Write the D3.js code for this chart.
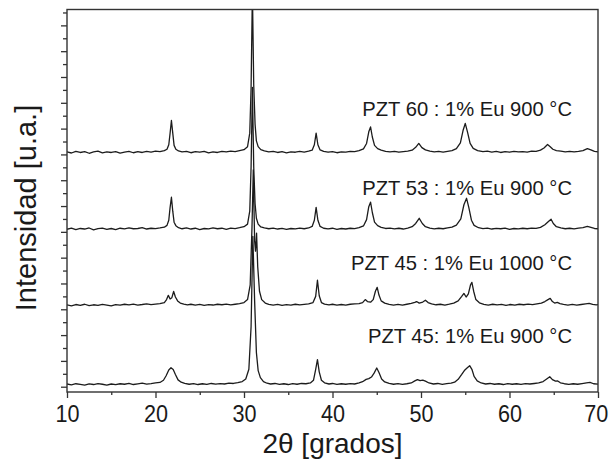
<!DOCTYPE html>
<html>
<head>
<meta charset="utf-8">
<script src="https://cdn.jsdelivr.net/npm/d3@7"></script>
<style>
  html, body { margin: 0; padding: 0; background: #fff; }
  svg { display: block; }
  text { font-family: "Liberation Sans", Arial, Helvetica, sans-serif; fill: #1a1a1a; }
</style>
</head>
<body>
<svg id="chart" width="609" height="466"></svg>
<script>
// X-ray diffraction patterns, 2θ in degrees, intensity in counts above each pattern's own baseline
const labels = [
  "PZT 60 : 1% Eu 900 °C",
  "PZT 53 : 1% Eu 900 °C",
  "PZT 45 : 1% Eu 1000 °C",
  "PZT 45: 1% Eu 900 °C"
];

// vertical stacking offset of each pattern (counts)
const offsets = [1815, 1220, 630, 15];

const pzt60 = [
  [10,5],[10.5,-4],[11,8],[11.5,0],[12,6],[12.5,-6],[13,4],[13.5,10],[14,-3],[14.5,5],[15,0],[15.5,7],[16,-5],[16.5,3],[17,9],[17.5,-2],[18,6],[18.5,0],[19,8],[19.5,3],[20,10],[20.5,6],[21,14],[21.3,25],[21.5,60],[21.65,150],[21.8,248],[21.95,150],[22.1,55],[22.3,25],[22.6,12],[23,5],[23.5,8],[24,-2],[24.5,6],[25,2],[25.5,9],[26,-3],[26.5,5],[27,0],[27.5,8],[28,4],[28.5,10],[29,6],[29.5,14],[30,22],[30.4,45],[30.65,150],[30.8,500],[30.95,1250],[31.1,520],[31.25,220],[31.4,90],[31.6,45],[31.9,22],[32.3,12],[32.8,5],[33.3,8],[33.8,0],[34.3,6],[34.8,-3],[35.3,5],[35.8,2],[36.3,8],[36.8,3],[37.3,10],[37.7,18],[37.95,60],[38.15,150],[38.35,60],[38.6,20],[39,8],[39.5,2],[40,7],[40.5,-2],[41,5],[41.5,3],[42,9],[42.5,6],[43,14],[43.5,28],[43.85,70],[44.1,160],[44.3,198],[44.5,120],[44.75,55],[45.1,30],[45.5,18],[46,8],[46.5,4],[47,9],[47.5,2],[48,7],[48.5,10],[49,18],[49.4,40],[49.75,70],[50.1,38],[50.5,20],[51,10],[51.5,4],[52,8],[52.5,3],[53,9],[53.5,14],[54,30],[54.45,75],[54.75,170],[55,225],[55.25,160],[55.55,70],[55.9,32],[56.4,15],[57,6],[57.5,10],[58,3],[58.5,8],[59,0],[59.5,6],[60,2],[60.5,9],[61,4],[61.5,7],[62,3],[62.5,10],[63,8],[63.5,18],[63.9,35],[64.3,62],[64.6,45],[64.9,25],[65.3,15],[65.8,10],[66.3,5],[66.8,9],[67.3,4],[67.8,8],[68.3,14],[68.8,30],[69.2,20],[69.6,8],[70,5]
];

const pzt53 = [
  [10,0],[10.5,8],[11,-3],[11.5,6],[12,2],[12.5,10],[13,-4],[13.5,5],[14,9],[14.5,0],[15,6],[15.5,-2],[16,8],[16.5,3],[17,10],[17.5,4],[18,6],[18.5,12],[19,2],[19.5,8],[20,5],[20.5,10],[21,16],[21.3,30],[21.5,70],[21.65,170],[21.8,248],[21.95,140],[22.1,55],[22.3,28],[22.6,12],[23,4],[23.5,10],[24,2],[24.5,8],[25,-2],[25.5,6],[26,3],[26.5,10],[27,4],[27.5,8],[28,0],[28.5,9],[29,5],[29.5,12],[30,20],[30.4,40],[30.65,140],[30.8,480],[30.95,1100],[31.1,480],[31.25,200],[31.4,85],[31.6,40],[31.9,18],[32.3,10],[32.8,4],[33.3,9],[33.8,2],[34.3,7],[34.8,0],[35.3,6],[35.8,3],[36.3,9],[36.8,4],[37.3,10],[37.7,22],[37.95,70],[38.15,170],[38.35,70],[38.6,22],[39,8],[39.5,3],[40,8],[40.5,0],[41,6],[41.5,2],[42,8],[42.5,5],[43,12],[43.5,26],[43.85,75],[44.1,175],[44.3,210],[44.5,130],[44.75,55],[45.1,28],[45.5,15],[46,6],[46.5,9],[47,3],[47.5,8],[48,2],[48.5,9],[49,20],[49.4,45],[49.8,85],[50.15,45],[50.5,20],[51,9],[51.5,3],[52,8],[52.5,4],[53,10],[53.5,16],[54,32],[54.5,80],[54.85,190],[55.15,240],[55.4,170],[55.7,70],[56,30],[56.5,12],[57,5],[57.5,9],[58,2],[58.5,7],[59,4],[59.5,9],[60,0],[60.5,6],[61,3],[61.5,8],[62,4],[62.5,9],[63,7],[63.5,15],[64,35],[64.4,60],[64.7,78],[64.95,45],[65.3,20],[65.8,10],[66.3,4],[66.8,8],[67.3,3],[67.8,9],[68.3,12],[68.8,22],[69.2,14],[69.6,6],[70,4]
];

const pzt45_1000 = [
  [10,4],[10.5,-3],[11,7],[11.5,1],[12,9],[12.5,-2],[13,5],[13.5,0],[14,8],[14.5,3],[15,-4],[15.5,6],[16,2],[16.5,9],[17,4],[17.5,10],[18,3],[18.5,7],[19,12],[19.5,6],[20,10],[20.5,14],[21,22],[21.25,45],[21.45,78],[21.65,50],[21.85,60],[22.05,108],[22.25,65],[22.5,35],[22.8,18],[23.2,10],[23.6,4],[24,9],[24.5,2],[25,8],[25.5,0],[26,6],[26.5,3],[27,9],[27.5,5],[28,10],[28.5,4],[29,9],[29.5,14],[30,22],[30.4,45],[30.7,160],[30.9,600],[31.05,1050],[31.2,500],[31.3,420],[31.42,560],[31.55,300],[31.75,110],[32,45],[32.4,18],[32.8,8],[33.3,3],[33.8,8],[34.3,0],[34.8,6],[35.3,2],[35.8,9],[36.3,4],[36.8,8],[37.3,12],[37.8,22],[38.1,70],[38.3,195],[38.5,75],[38.75,22],[39.1,10],[39.6,4],[40,9],[40.5,2],[41,7],[41.5,3],[42,9],[42.5,12],[43,14],[43.4,22],[43.7,45],[43.95,30],[44.3,25],[44.6,45],[44.85,110],[45.05,140],[45.25,80],[45.5,35],[45.9,18],[46.4,8],[46.9,3],[47.4,8],[47.9,2],[48.4,9],[48.9,15],[49.3,24],[49.5,30],[49.8,18],[50.2,26],[50.5,40],[50.8,22],[51.2,12],[51.7,5],[52.2,9],[52.7,3],[53.2,10],[53.7,18],[54.2,35],[54.6,70],[54.85,93],[55.1,65],[55.35,90],[55.6,160],[55.75,178],[55.95,110],[56.2,45],[56.6,20],[57.1,8],[57.6,3],[58.1,9],[58.6,4],[59.1,8],[59.6,0],[60.1,7],[60.6,3],[61.1,9],[61.6,5],[62.1,10],[62.6,6],[63.1,12],[63.6,18],[64,30],[64.35,45],[64.6,55],[64.85,30],[65.1,18],[65.4,24],[65.7,14],[66.1,8],[66.6,3],[67.1,8],[67.6,2],[68.1,7],[68.6,12],[69,16],[69.4,8],[69.8,4],[70,6]
];

const pzt45_900 = [
  [10,6],[10.5,0],[11,8],[11.5,3],[12,-2],[12.5,7],[13,2],[13.5,9],[14,4],[14.5,-3],[15,6],[15.5,1],[16,8],[16.5,4],[17,10],[17.5,2],[18,7],[18.5,12],[19,5],[19.5,9],[20,14],[20.5,18],[20.9,35],[21.2,70],[21.5,115],[21.75,132],[22,118],[22.25,80],[22.55,38],[22.9,20],[23.3,10],[23.8,4],[24.3,9],[24.8,2],[25.3,8],[25.8,3],[26.3,10],[26.8,5],[27.3,9],[27.8,6],[28.3,12],[28.8,10],[29.3,16],[29.8,25],[30.2,45],[30.55,120],[30.8,450],[31,1150],[31.2,650],[31.4,250],[31.6,110],[31.85,55],[32.2,25],[32.6,12],[33,6],[33.5,10],[34,3],[34.5,8],[35,2],[35.5,9],[36,4],[36.5,10],[37,8],[37.5,14],[37.85,35],[38.1,120],[38.3,195],[38.5,100],[38.75,35],[39.1,15],[39.6,6],[40,10],[40.5,3],[41,8],[41.5,4],[42,9],[42.5,6],[43,14],[43.4,24],[43.8,42],[44.1,48],[44.4,60],[44.7,90],[45,130],[45.25,95],[45.55,45],[45.9,22],[46.4,10],[46.9,4],[47.4,9],[47.9,3],[48.4,8],[48.9,14],[49.3,30],[49.6,40],[49.9,32],[50.2,36],[50.5,28],[50.9,14],[51.4,6],[51.9,10],[52.4,3],[52.9,9],[53.4,12],[53.8,20],[54.2,42],[54.6,80],[54.9,110],[55.2,130],[55.5,148],[55.75,120],[56,65],[56.35,30],[56.8,14],[57.3,6],[57.8,10],[58.3,4],[58.8,8],[59.3,2],[59.8,9],[60.3,4],[60.8,8],[61.3,3],[61.8,9],[62.3,6],[62.8,10],[63.3,14],[63.8,25],[64.2,45],[64.55,62],[64.85,40],[65.2,28],[65.45,30],[65.75,15],[66.2,8],[66.7,3],[67.2,8],[67.7,4],[68.2,9],[68.7,14],[69.1,18],[69.5,8],[70,5]
];

const patterns = [pzt60, pzt53, pzt45_1000, pzt45_900];

const xTicks = [10, 20, 30, 40, 50, 60, 70];
const xMinorTicks = [15, 25, 35, 45, 55, 65];
const xLabel = "2θ [grados]";
const yLabel = "Intensidad [u.a.]";

// ---- layout ----
const svg = d3.select("#chart");
const plotLeft = 67, plotRight = 598, plotTop = 9.5, plotBottom = 392;

const x = d3.scaleLinear().domain([10, 70]).range([plotLeft, plotRight]);
const y = d3.scaleLinear().domain([-41, 2923]).range([plotBottom, plotTop]);

svg.append("defs").append("clipPath").attr("id", "plotClip")
  .append("rect").attr("x", plotLeft).attr("y", plotTop)
  .attr("width", plotRight - plotLeft).attr("height", plotBottom - plotTop);

// patterns
const line = d3.line().x(d => x(d[0])).y(d => y(d[1]));
const traces = svg.append("g").attr("clip-path", "url(#plotClip)");
patterns.forEach((pts, i) => {
  traces.append("path")
    .datum(pts.map(p => [p[0], p[1] + offsets[i]]))
    .attr("d", line)
    .attr("fill", "none")
    .attr("stroke", "#1c1c1c")
    .attr("stroke-width", 1.3)
    .attr("stroke-linejoin", "round");
});

// frame
svg.append("rect")
  .attr("x", plotLeft).attr("y", plotTop)
  .attr("width", plotRight - plotLeft).attr("height", plotBottom - plotTop)
  .attr("fill", "none").attr("stroke", "#333").attr("stroke-width", 1.4);

// x axis
const xAxis = d3.axisBottom(x).tickValues(xTicks).tickSize(6).tickPadding(7)
  .tickFormat(d3.format("d"));
const gx = svg.append("g").attr("transform", `translate(0,${plotBottom})`).call(xAxis);
gx.select(".domain").remove();
gx.selectAll(".tick line").attr("stroke", "#333").attr("stroke-width", 1.3);
gx.selectAll(".tick text").attr("font-size", 24).attr("fill", "#1a1a1a")
  .attr("font-family", "Liberation Sans, Arial, sans-serif")
  .attr("transform", "scale(0.9,1)")
  .attr("dx", d => (d === 70 ? -2.5 : 0));

const gxm = svg.append("g").attr("transform", `translate(0,${plotBottom})`)
  .call(d3.axisBottom(x).tickValues(xMinorTicks).tickSize(3).tickFormat(""));
gxm.select(".domain").remove();
gxm.selectAll(".tick line").attr("stroke", "#333").attr("stroke-width", 1.3);

// y axis: unlabelled ticks pointing outward
const yTicks = d3.range(0, 2901, 100);
const gy = svg.append("g").attr("transform", `translate(${plotLeft},0)`)
  .call(d3.axisLeft(y).tickValues(yTicks).tickFormat("").tickSize(5));
gy.select(".domain").remove();
gy.selectAll(".tick line")
  .attr("x2", (d, i) => (i % 2 === 0 ? -6 : -4))
  .attr("stroke", "#333").attr("stroke-width", 1.3);

// axis titles
svg.append("text")
  .attr("x", (plotLeft + plotRight) / 2).attr("y", 453)
  .attr("text-anchor", "middle").attr("font-size", 28)
  .text(xLabel);

svg.append("text")
  .attr("transform", "translate(36,208) rotate(-90)")
  .attr("text-anchor", "middle").attr("font-size", 29)
  .text(yLabel);

// pattern labels
const labelBaselines = [116, 195, 270, 343];
svg.append("g").selectAll("text").data(labels).join("text")
  .attr("x", 572).attr("y", (d, i) => labelBaselines[i])
  .attr("text-anchor", "end").attr("font-size", 20.2)
  .text(d => d);
</script>
</body>
</html>
